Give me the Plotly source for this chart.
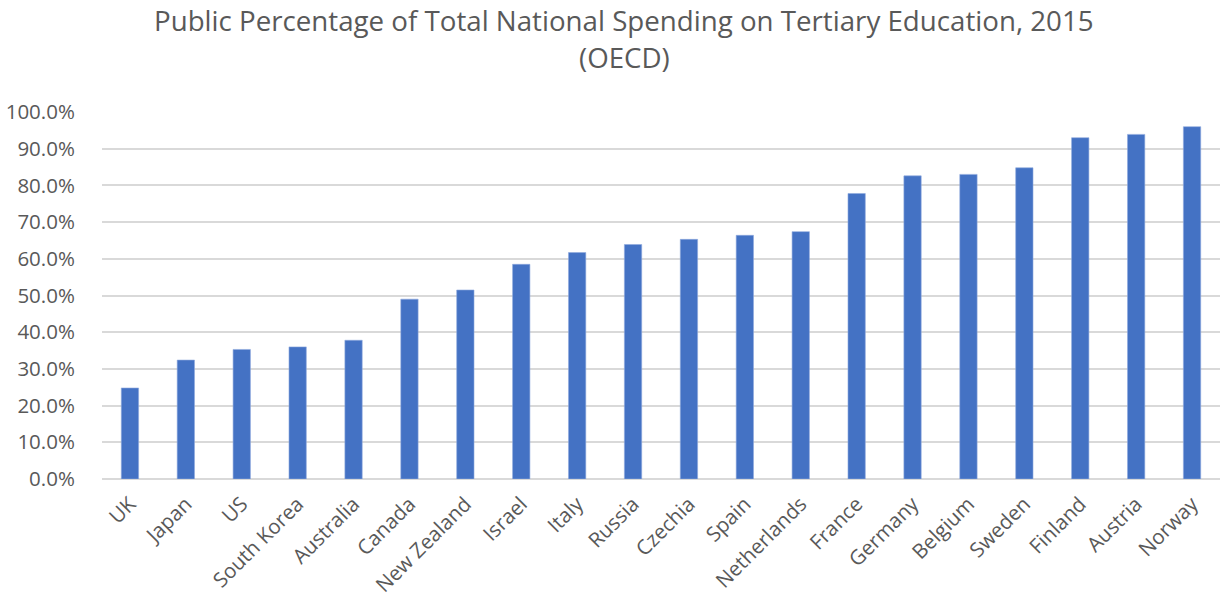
import plotly.graph_objects as go

countries = ["UK", "Japan", "US", "South Korea", "Australia", "Canada", "New Zealand",
             "Israel", "Italy", "Russia", "Czechia", "Spain", "Netherlands", "France",
             "Germany", "Belgium", "Sweden", "Finland", "Austria", "Norway"]
public_share = [0.248, 0.324, 0.353, 0.360, 0.378, 0.490, 0.515, 0.585, 0.617, 0.639,
                0.653, 0.664, 0.674, 0.778, 0.826, 0.830, 0.848, 0.930, 0.939, 0.960]
y_ticks = [i / 10 for i in range(11)]
title_lines = ["Public Percentage of Total National Spending on Tertiary Education, 2015", "(OECD)"]

grey = "#595959"
fig = go.Figure(go.Bar(x=countries, y=public_share, marker=dict(color="#4472C4",
                       line=dict(color="#8fa9dd", width=0.6)), width=0.31))

W, H = 1225, 602
fig.update_layout(
    width=W, height=H,
    paper_bgcolor="white", plot_bgcolor="white",
    margin=dict(l=102, r=5, t=112, b=123),
    font=dict(family="Open Sans", color=grey),
    showlegend=False,
    bargap=0.69,
)
for line, ypix in zip(title_lines, [20, 57]):
    fig.add_annotation(text=line, xref="paper", yref="paper",
                       x=(624 - 102) / (W - 102 - 5), y=1 + (112 - ypix) / (H - 112 - 123),
                       xanchor="center", yanchor="middle", showarrow=False,
                       font=dict(size=27.7, color=grey, family="Open Sans"))
fig.update_yaxes(range=[0, 1.0], tickvals=y_ticks, tickformat=".1%",
                 showgrid=True, gridcolor="#d9d9d9", gridwidth=1.5,
                 zeroline=True, zerolinecolor="#d9d9d9", zerolinewidth=1.5,
                 ticks="outside", ticklen=22, tickcolor="rgba(0,0,0,0)",
                 tickfont=dict(size=20.5, color=grey), showline=False)
fig.update_xaxes(tickangle=-45, tickfont=dict(size=20.5, color=grey),
                 showline=False, ticks="outside", ticklen=4, tickcolor="rgba(0,0,0,0)")

fig.write_html("out.html")
